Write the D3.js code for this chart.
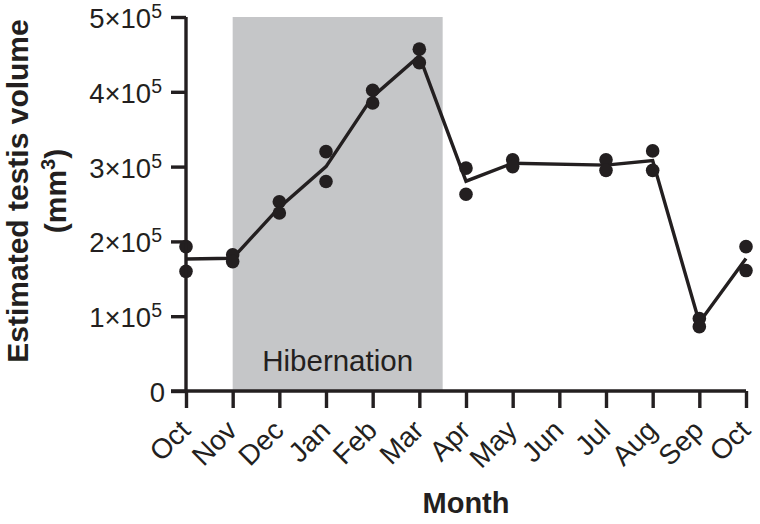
<!DOCTYPE html>
<html>
<head>
<meta charset="utf-8">
<script src="https://cdn.jsdelivr.net/npm/d3@7"></script>
<style>
  body { margin: 0; background: #fff; }
  svg { display: block; font-family: "Liberation Sans", Arial, Helvetica, sans-serif; }
</style>
</head>
<body>
<svg id="chart" width="760" height="524"></svg>
<script>
// ---- data ----
const months = ["Oct","Nov","Dec","Jan","Feb","Mar","Apr","May","Jun","Jul","Aug","Sep","Oct"];
const animal1 = [193000, 182000, 253000, 320000, 402000, 457000, 298000, 309000, null, 309000, 321000, 97000, 193000];
const animal2 = [160000, 173000, 238000, 280000, 385000, 439000, 263000, 300000, null, 295000, 295000, 86000, 161000];
const yTicks = [0, 100000, 200000, 300000, 400000, 500000];
const yTickMantissa = ["0", "1", "2", "3", "4", "5"];
const hibernation = { start: 1, end: 5.5, label: "Hibernation" };

const ink = "#231f20";
const svg = d3.select("#chart");

const x = d3.scaleLinear().domain([0, 12]).range([186, 746]);
const y = d3.scaleLinear().domain([0, 500000]).range([391, 17]);

// hibernation shading
svg.append("rect")
  .attr("x", x(hibernation.start))
  .attr("y", y(500000))
  .attr("width", x(hibernation.end) - x(hibernation.start))
  .attr("height", y(0) - y(500000))
  .attr("fill", "#c5c6c8");

svg.append("text")
  .attr("x", (x(hibernation.start) + x(hibernation.end)) / 2)
  .attr("y", 371)
  .attr("text-anchor", "middle")
  .attr("font-size", 29.5)
  .attr("fill", ink)
  .text(hibernation.label);

// means line
const means = months.map((m, i) => {
  const vals = [animal1[i], animal2[i]].filter(v => v != null);
  return vals.length ? { i, v: d3.mean(vals) } : null;
}).filter(d => d);

svg.append("path")
  .datum(means)
  .attr("fill", "none")
  .attr("stroke", ink)
  .attr("stroke-width", 3.4)
  .attr("stroke-linejoin", "miter")
  .attr("d", d3.line().x(d => x(d.i)).y(d => y(d.v)));

// points
const pts = [];
months.forEach((m, i) => {
  [animal1[i], animal2[i]].forEach(v => { if (v != null) pts.push({ i, v }); });
});
svg.append("g").selectAll("circle")
  .data(pts).join("circle")
  .attr("cx", d => x(d.i))
  .attr("cy", d => y(d.v))
  .attr("r", 6.8)
  .attr("fill", ink);

// y axis
const yAxis = svg.append("g")
  .attr("transform", `translate(${x(0)},0)`)
  .call(d3.axisLeft(y).tickValues(yTicks).tickSize(15).tickFormat(""));
yAxis.select(".domain").attr("stroke", ink).attr("stroke-width", 3.4).attr("d", `M0,${y(500000)}V${y(0)}`);
yAxis.selectAll(".tick line").attr("stroke", ink).attr("stroke-width", 3.4);

const yl = svg.append("g");
yTicks.forEach((t, k) => {
  const tx = yl.append("text")
    .attr("x", 162)
    .attr("y", y(t) + 11)
    .attr("text-anchor", "end")
    .attr("font-size", 27.5)
    .attr("fill", ink);
  if (t === 0) {
    tx.attr("x", 165).text("0");
  } else {
    tx.append("tspan").text(yTickMantissa[k] + "×10");
    tx.append("tspan").attr("dy", -10).attr("font-size", 19.5).text("5");
  }
});

// x axis
const xAxis = svg.append("g")
  .attr("transform", `translate(0,${y(0)})`)
  .call(d3.axisBottom(x).tickValues(d3.range(months.length)).tickSize(17).tickFormat(""));
xAxis.select(".domain").attr("stroke", ink).attr("stroke-width", 3.4).attr("d", `M${x(0) - 15},0H${x(12)}`);
xAxis.selectAll(".tick line").attr("stroke", ink).attr("stroke-width", 3.4);

svg.append("g").selectAll("text")
  .data(months).join("text")
  .attr("transform", (d, i) => `translate(${x(i) + 6},432) rotate(-45)`)
  .attr("text-anchor", "end")
  .attr("font-size", 28)
  .attr("fill", ink)
  .text(d => d);

// axis titles
svg.append("text")
  .attr("x", 466)
  .attr("y", 513)
  .attr("text-anchor", "middle")
  .attr("font-size", 29)
  .attr("font-weight", "bold")
  .attr("fill", ink)
  .text("Month");

const yt = svg.append("text")
  .attr("transform", "translate(0,191) rotate(-90)")
  .attr("text-anchor", "middle")
  .attr("font-size", 30)
  .attr("font-weight", "bold")
  .attr("fill", ink);
yt.append("tspan").attr("x", 0).attr("y", 28).text("Estimated testis volume");
const l2 = yt.append("tspan").attr("x", 0).attr("y", 66);
l2.append("tspan").text("(mm");
l2.append("tspan").attr("dy", -11).attr("font-size", 20).text("3");
l2.append("tspan").attr("dy", 11).text(")");
</script>
</body>
</html>
